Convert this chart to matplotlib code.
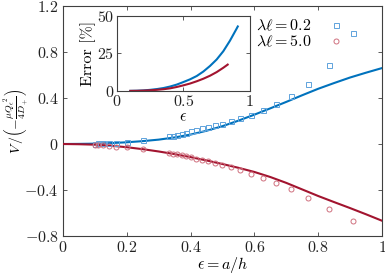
import numpy as np
import matplotlib
matplotlib.use('Agg')
import matplotlib.pyplot as plt

plt.rcParams['mathtext.fontset'] = 'cm'
plt.rcParams['font.family'] = 'serif'
plt.rcParams['font.serif'] = ['cmr10', 'DejaVu Serif']
plt.rcParams['axes.unicode_minus'] = False

# epsilon = a/h of the simulation points (h = 10..4, 3.0..1.1)
eps_pts = [0.1, 0.111, 0.125, 0.143, 0.167, 0.2, 0.25, 0.333, 0.345, 0.357,
           0.372, 0.385, 0.4, 0.417, 0.435, 0.455, 0.476, 0.5, 0.527, 0.556,
           0.588, 0.626, 0.667, 0.715, 0.769, 0.833, 0.909]
V_sq = [0.004, 0.005, 0.006, 0.009, 0.013, 0.02, 0.038, 0.068, 0.073, 0.078,
        0.084, 0.098, 0.110, 0.125, 0.136, 0.151, 0.162, 0.177, 0.197, 0.223,
        0.252, 0.296, 0.348, 0.42, 0.522, 0.684, 0.968]
V_circ = [-0.008, -0.01, -0.013, -0.017, -0.022, -0.03, -0.046, -0.078, -0.084, -0.09,
          -0.096, -0.104, -0.116, -0.128, -0.139, -0.15, -0.165, -0.183, -0.203, -0.226,
          -0.258, -0.293, -0.336, -0.394, -0.47, -0.565, -0.667]

# asymptotic curves
eps_line = [0.0, 0.05, 0.1, 0.15, 0.2, 0.25, 0.3, 0.35, 0.4, 0.45, 0.5,
            0.55, 0.6, 0.65, 0.7, 0.75, 0.8, 0.85, 0.9, 0.95, 1.0]
V_line_02 = [0.0, 0.001, 0.003, 0.008, 0.015, 0.025, 0.038, 0.057, 0.082, 0.115, 0.155,
             0.203, 0.255, 0.31, 0.366, 0.424, 0.48, 0.53, 0.578, 0.62, 0.66]
V_line_50 = [0.0, -0.002, -0.006, -0.015, -0.028, -0.045, -0.065, -0.088, -0.114, -0.143, -0.174,
             -0.207, -0.243, -0.287, -0.338, -0.395, -0.452, -0.505, -0.557, -0.611, -0.667]

# inset: relative error in percent
eps_err_02 = [0.1, 0.15, 0.2, 0.25, 0.3, 0.35, 0.4, 0.45, 0.5, 0.55, 0.6,
              0.65, 0.7, 0.75, 0.8, 0.85, 0.9, 0.909]
err_02 = [0.1, 0.2, 0.4, 0.8, 1.3, 2.0, 3.0, 4.3, 6.0, 7.8, 10.0,
          13.0, 16.7, 21.0, 26.5, 33.5, 41.5, 43.0]
eps_err_50 = [0.1, 0.15, 0.2, 0.25, 0.3, 0.35, 0.4, 0.45, 0.5, 0.55, 0.6,
              0.65, 0.7, 0.75, 0.8, 0.833]
err_50 = [0.1, 0.15, 0.3, 0.5, 0.8, 1.2, 1.8, 2.7, 3.8, 5.0, 6.5,
          8.2, 10.2, 12.6, 15.5, 17.6]

xticks = [0, 0.2, 0.4, 0.6, 0.8, 1]
xticklabels = ['0', '0.2', '0.4', '0.6', '0.8', '1']
yticks = [-0.8, -0.4, 0, 0.4, 0.8, 1.2]
yticklabels = ['-0.8', '-0.4', '0', '0.4', '0.8', '1.2']
in_xticks = [0, 0.5, 1]
in_xticklabels = ['0', '0.5', '1']
in_yticks = [0, 25, 50]
in_yticklabels = ['0', '25', '50']

blue = '#0072BD'
red = '#A2142F'
blue_m = '#5fa3dc'
red_m = '#d0707f'
spine_c = '#404040'
fs = 11.5

fig = plt.figure(figsize=(3.85, 2.75), dpi=100)
ax = fig.add_axes([0.1636, 0.1418, 0.8284, 0.8364])

ax.plot(eps_line, V_line_02, color=blue, lw=1.5, zorder=2)
ax.plot(eps_line, V_line_50, color=red, lw=1.5, zorder=3)
ax.plot(eps_pts, V_sq, ls='none', marker='s', ms=3.6, mfc='none', mec=blue_m,
        mew=0.7, label=r'$\lambda\ell = 0.2$', zorder=4)
ax.plot(eps_pts, V_circ, ls='none', marker='o', ms=3.6, mfc='none', mec=red_m,
        mew=0.7, label=r'$\lambda\ell = 5.0$', zorder=4)

ax.set_xlim(0, 1)
ax.set_ylim(-0.8, 1.2)
ax.set_xticks(xticks)
ax.set_xticklabels(['$' + s + '$' for s in xticklabels])
ax.set_yticks(yticks)
ax.set_yticklabels(['$' + s + '$' for s in yticklabels])
ax.tick_params(direction='in', length=3, width=0.6, top=True, right=True,
               labelsize=fs, colors=spine_c, labelcolor='#222222', pad=3)
for s in ax.spines.values():
    s.set_color(spine_c)
    s.set_linewidth(0.8)

ax.set_xlabel(r'$\epsilon = a/h$', fontsize=fs, labelpad=0)
ax.set_ylabel(r'$V\,/\left(-\frac{\mu {Q_\epsilon}^2}{4D_+}\right)$', fontsize=10, labelpad=-5)

leg = ax.legend(loc='upper right', bbox_to_anchor=(0.925, 1.01), frameon=False,
                markerfirst=False, fontsize=fs, handletextpad=1.0,
                labelspacing=0.05, handlelength=1.0)

# inset with the error
ins = fig.add_axes([0.304, 0.669, 0.345, 0.273])
ins.plot(eps_err_02, err_02, color=blue, lw=1.5)
ins.plot(eps_err_50, err_50, color=red, lw=1.5)
ins.set_xlim(0, 1)
ins.set_ylim(0, 50)
ins.set_xticks(in_xticks)
ins.set_xticklabels(['$' + s + '$' for s in in_xticklabels])
ins.set_yticks(in_yticks)
ins.set_yticklabels(['$' + s + '$' for s in in_yticklabels])
ins.tick_params(direction='in', length=3, width=0.6, top=True, right=True,
                labelsize=fs, colors=spine_c, labelcolor='#222222', pad=2)
for s in ins.spines.values():
    s.set_color(spine_c)
    s.set_linewidth(0.8)
ins.set_xlabel(r'$\epsilon$', fontsize=fs, labelpad=1)
ins.set_ylabel(r'Error [%]', fontsize=fs, labelpad=1)

fig.savefig('out.png', dpi=100)
